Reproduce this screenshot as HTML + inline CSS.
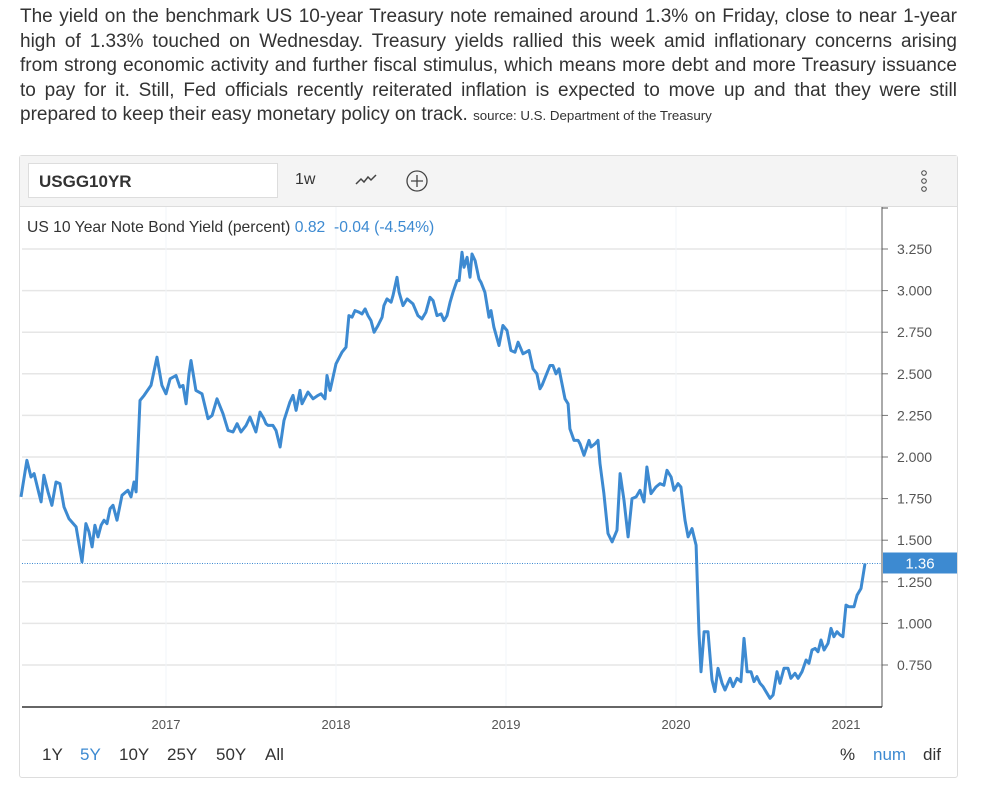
<!DOCTYPE html>
<html><head><meta charset="utf-8"><style>
body{margin:0;background:#fff;width:990px;height:785px;overflow:hidden;font-family:"Liberation Sans",sans-serif;}
#desc{position:absolute;left:20px;top:5px;width:937px;font-size:19px;line-height:24.6px;color:#333;}
#desc div{text-align:justify;text-align-last:justify;white-space:nowrap;}
#desc div.last{text-align-last:left;}
#desc small{font-size:13.3px;}
#box{position:absolute;left:19px;top:155px;width:937px;height:621px;border:1px solid #ddd;border-radius:3px;}
#tb{position:absolute;left:0;top:0;width:937px;height:50px;background:#f4f4f4;border-bottom:1px solid #ddd;}
#sym{position:absolute;left:8px;top:7px;width:250px;height:35px;background:#fff;border:1px solid #ddd;font-weight:bold;font-size:17px;color:#333;line-height:35px;padding-left:10px;box-sizing:border-box;}
.b{position:absolute;font-size:16px;color:#333;}
.r{position:absolute;top:745px;font-size:17px;color:#333;}
</style></head><body>
<div id="desc">
<div>The yield on the benchmark US 10-year Treasury note remained around 1.3% on Friday, close to near 1-year</div>
<div>high of 1.33% touched on Wednesday. Treasury yields rallied this week amid inflationary concerns arising</div>
<div>from strong economic activity and further fiscal stimulus, which means more debt and more Treasury issuance</div>
<div>to pay for it. Still, Fed officials recently reiterated inflation is expected to move up and that they were still</div>
<div class="last">prepared to keep their easy monetary policy on track. <small>source: U.S. Department of the Treasury</small></div>
</div>
<div id="box">
<div id="tb">
<div id="sym">USGG10YR</div>
<div class="b" style="left:275px;top:15px">1w</div>
<svg style="position:absolute;left:334px;top:16px" width="24" height="16"><polyline points="2,12 7,7 10,10 14,5 17,8 22,3" fill="none" stroke="#444" stroke-width="1.5"/></svg>
<svg style="position:absolute;left:385px;top:13px" width="24" height="24"><circle cx="12" cy="12" r="10" fill="none" stroke="#444" stroke-width="1.3"/><path d="M12 6V18M6 12H18" stroke="#444" stroke-width="1.3"/></svg>
<svg style="position:absolute;left:898px;top:12px" width="12" height="28"><circle cx="6" cy="5" r="2.3" fill="none" stroke="#444"/><circle cx="6" cy="13" r="2.3" fill="none" stroke="#444"/><circle cx="6" cy="21" r="2.3" fill="none" stroke="#444"/></svg>
</div>
</div>
<svg id="chart" style="position:absolute;left:0;top:0" width="990" height="785"></svg>
<div style="position:absolute;left:27px;top:219px;font-size:15.7px;color:#333">US 10 Year Note Bond Yield (percent) <span style="color:#3d8ad1">0.82&nbsp; -0.04 (-4.54%)</span></div>
<span class="r" style="left:42px">1Y</span>
<span class="r" style="left:80px;color:#3d8ad1">5Y</span>
<span class="r" style="left:119px">10Y</span>
<span class="r" style="left:167px">25Y</span>
<span class="r" style="left:216px">50Y</span>
<span class="r" style="left:265px">All</span>
<span class="r" style="left:840px">%</span>
<span class="r" style="left:873px;color:#3d8ad1">num</span>
<span class="r" style="left:923px">dif</span>
<script>
const dates=[2016.147,2016.182,2016.206,2016.224,2016.253,2016.265,2016.282,2016.306,2016.329,2016.353,2016.376,2016.400,2016.429,2016.471,2016.506,2016.529,2016.547,2016.565,2016.582,2016.600,2016.618,2016.635,2016.653,2016.671,2016.688,2016.712,2016.741,2016.776,2016.794,2016.812,2016.824,2016.847,2016.871,2016.912,2016.947,2016.976,
2017.000,2017.024,2017.059,2017.082,2017.100,2017.118,2017.135,2017.147,2017.176,2017.212,2017.247,2017.271,2017.300,2017.335,2017.365,2017.394,2017.418,2017.441,2017.471,2017.494,2017.529,2017.553,2017.576,2017.588,2017.600,2017.629,2017.647,2017.671,2017.694,2017.729,2017.747,2017.765,2017.788,2017.800,2017.835,2017.865,2017.894,2017.912,2017.935,2017.947,2017.965,
2018.000,2018.035,2018.059,2018.076,2018.094,2018.112,2018.135,2018.153,2018.171,2018.188,2018.206,2018.224,2018.247,2018.271,2018.282,2018.300,2018.324,2018.335,2018.359,2018.371,2018.394,2018.418,2018.453,2018.482,2018.506,2018.529,2018.553,2018.571,2018.594,2018.618,2018.635,2018.653,2018.671,2018.688,2018.712,2018.724,2018.741,2018.753,2018.771,2018.788,2018.800,2018.818,2018.841,2018.853,2018.876,2018.900,2018.912,2018.929,2018.959,2018.982,
2019.006,2019.029,2019.053,2019.071,2019.100,2019.135,2019.159,2019.182,2019.200,2019.212,2019.259,2019.276,2019.294,2019.312,2019.347,2019.365,2019.376,2019.400,2019.424,2019.435,2019.459,2019.488,2019.500,2019.524,2019.541,2019.553,2019.576,2019.600,2019.624,2019.653,2019.671,2019.694,2019.718,2019.741,2019.765,2019.788,2019.812,2019.829,2019.853,2019.882,2019.906,2019.929,2019.947,2019.971,2019.988,
2020.012,2020.029,2020.053,2020.071,2020.094,2020.118,2020.135,2020.147,2020.165,2020.188,2020.212,2020.229,2020.247,2020.271,2020.288,2020.318,2020.335,2020.359,2020.382,2020.400,2020.418,2020.441,2020.459,2020.476,2020.494,2020.512,2020.535,2020.553,2020.571,2020.594,2020.612,2020.635,2020.659,2020.676,2020.700,2020.718,2020.741,2020.765,2020.782,2020.800,2020.818,2020.835,2020.853,2020.871,2020.894,2020.912,2020.929,2020.947,2020.965,2020.982,
2021.000,2021.018,2021.047,2021.065,2021.088,2021.112];
const yields=[1.76,1.98,1.88,1.90,1.78,1.73,1.89,1.79,1.71,1.85,1.84,1.70,1.63,1.58,1.37,1.60,1.55,1.46,1.59,1.52,1.59,1.62,1.60,1.69,1.71,1.62,1.77,1.80,1.76,1.85,1.79,2.34,2.37,2.43,2.60,2.43,
2.38,2.47,2.49,2.42,2.43,2.32,2.50,2.58,2.40,2.38,2.23,2.25,2.35,2.26,2.16,2.15,2.20,2.15,2.19,2.24,2.15,2.27,2.23,2.20,2.19,2.19,2.16,2.06,2.22,2.33,2.37,2.28,2.40,2.32,2.39,2.35,2.37,2.38,2.35,2.49,2.40,
2.56,2.63,2.66,2.85,2.84,2.88,2.87,2.86,2.89,2.85,2.82,2.75,2.79,2.84,2.91,2.95,2.93,2.97,3.08,2.99,2.91,2.95,2.92,2.85,2.83,2.87,2.96,2.94,2.85,2.86,2.82,2.85,2.93,2.99,3.06,3.06,3.23,3.14,3.20,3.08,3.22,3.18,3.07,3.05,2.99,2.84,2.88,2.78,2.67,2.79,
2.76,2.64,2.63,2.69,2.62,2.64,2.53,2.50,2.41,2.43,2.55,2.55,2.50,2.53,2.35,2.32,2.17,2.10,2.10,2.08,2.01,2.10,2.06,2.08,2.10,1.96,1.78,1.54,1.49,1.56,1.90,1.74,1.52,1.75,1.76,1.80,1.73,1.94,1.78,1.82,1.84,1.83,1.92,1.88,1.80,
1.84,1.82,1.62,1.52,1.57,1.47,0.94,0.71,0.95,0.95,0.66,0.59,0.73,0.64,0.60,0.67,0.62,0.67,0.65,0.91,0.71,0.71,0.65,0.68,0.64,0.62,0.58,0.55,0.57,0.71,0.64,0.73,0.73,0.67,0.70,0.67,0.71,0.78,0.76,0.84,0.85,0.83,0.90,0.84,0.88,0.97,0.92,0.95,0.93,0.92,
1.11,1.10,1.10,1.17,1.21,1.36];
const yTicks=[0.75,1.0,1.25,1.5,1.75,2.0,2.25,2.5,2.75,3.0,3.25];
const yTickLabels=["0.750","1.000","1.250","1.500","1.750","2.000","2.250","2.500","2.750","3.000","3.250"];
const xTicks=[2017,2018,2019,2020,2021];
const lastValue=1.36;
const X0=22,X1=882,Y0=207,Y1=707;
const xs=d=>22+(d-2016.1529)*170;
const ys=v=>665-(v-0.75)*166.4;
const NS="http://www.w3.org/2000/svg";
const svg=document.getElementById('chart');
function mk(t,a,p){const e=document.createElementNS(NS,t);for(const k in a)e.setAttribute(k,a[k]);(p||svg).appendChild(e);return e;}
yTicks.forEach((v,i)=>{
 const g=mk('line',{x1:X0,x2:X1,y1:ys(v),y2:ys(v),stroke:'#e6e6e6','stroke-width':1.5});
 
 
 mk('line',{x1:X1,x2:X1+6,y1:ys(v),y2:ys(v),stroke:'#777'});
 const t=mk('text',{x:897,y:ys(v)+5,'font-size':14,fill:'#555','font-family':'Liberation Sans, sans-serif'});
 t.textContent=yTickLabels[i];
 
 
});
xTicks.forEach(yr=>{
 const g=mk('line',{x1:xs(yr),x2:xs(yr),y1:Y0,y2:Y1,stroke:'#f2f5f8','stroke-width':1});
 
 
 const t=mk('text',{x:xs(yr),y:729,'font-size':13,fill:'#555','text-anchor':'middle','font-family':'Liberation Sans, sans-serif'});
 t.textContent=yr;
 
 
});
const ya=mk('line',{x1:X1,x2:X1,y1:Y0,y2:Y1,stroke:'#555'});


mk('line',{x1:X1,x2:X1+6,y1:Y0+1,y2:Y0+1,stroke:'#555'});
const xa=mk('line',{x1:X0,x2:X1,y1:Y1,y2:Y1,stroke:'#333','stroke-width':1.5});


const dl=mk('line',{x1:X0,x2:X1,y1:ys(lastValue),y2:ys(lastValue),stroke:'#3d8ad1','stroke-dasharray':'1,1.5'});


const pl=mk('polyline',{points:dates.map((d,i)=>xs(d).toFixed(1)+','+ys(yields[i]).toFixed(1)).join(' '),fill:'none',stroke:'#3d8ad1','stroke-width':3,'stroke-linejoin':'round'});


const lb=mk('rect',{x:883,y:ys(lastValue)-11,width:74,height:21,fill:'#3d8ad1'});


const lt=mk('text',{x:920,y:ys(lastValue)+5,'font-size':15,fill:'#fff','text-anchor':'middle','font-family':'Liberation Sans, sans-serif'});
lt.textContent=lastValue.toFixed(2);


</script>
</body></html>
